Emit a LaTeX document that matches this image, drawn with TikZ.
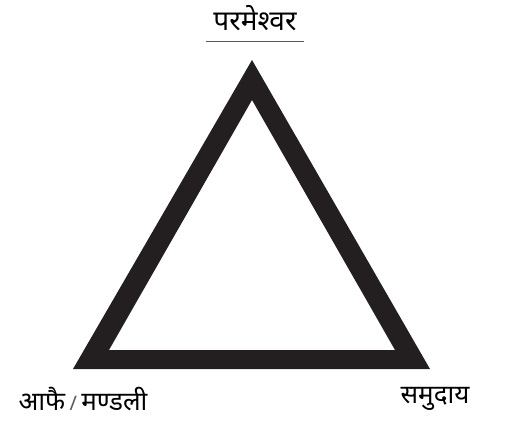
\documentclass[tikz,border=0pt]{standalone}
\usepackage{fontspec}
\newfontfamily\devfont[Script=Devanagari]{Noto Sans}
\definecolor{ink}{HTML}{231F20}
\begin{document}
\begin{tikzpicture}[x=1pt,y=-1pt,
  lbl/.style={font=\devfont\fontsize{26}{30}\selectfont, text=black, inner sep=0pt}]
\useasboundingbox (0,0) rectangle (507,423);
\fill[ink, even odd rule] (252,60) -- (430,369) -- (73,369) -- cycle
  (252,100) -- (395,350) -- (109,350) -- cycle;
\node[lbl, font=\devfont\fontsize{28}{32}\selectfont] (top) at (255,18) {परमेश्वर};
\draw[gray!70!black, line width=0.8pt] (206,41) coordinate (ul) -- (304,41) coordinate (ur);
\node[lbl] (left) at (83,399) {आफै\,{\fontsize{20}{22}\selectfont\color{black!65}/}\,मण्डली};
\node[lbl] (right) at (435,399) {समुदाय};
\end{tikzpicture}
\end{document}
